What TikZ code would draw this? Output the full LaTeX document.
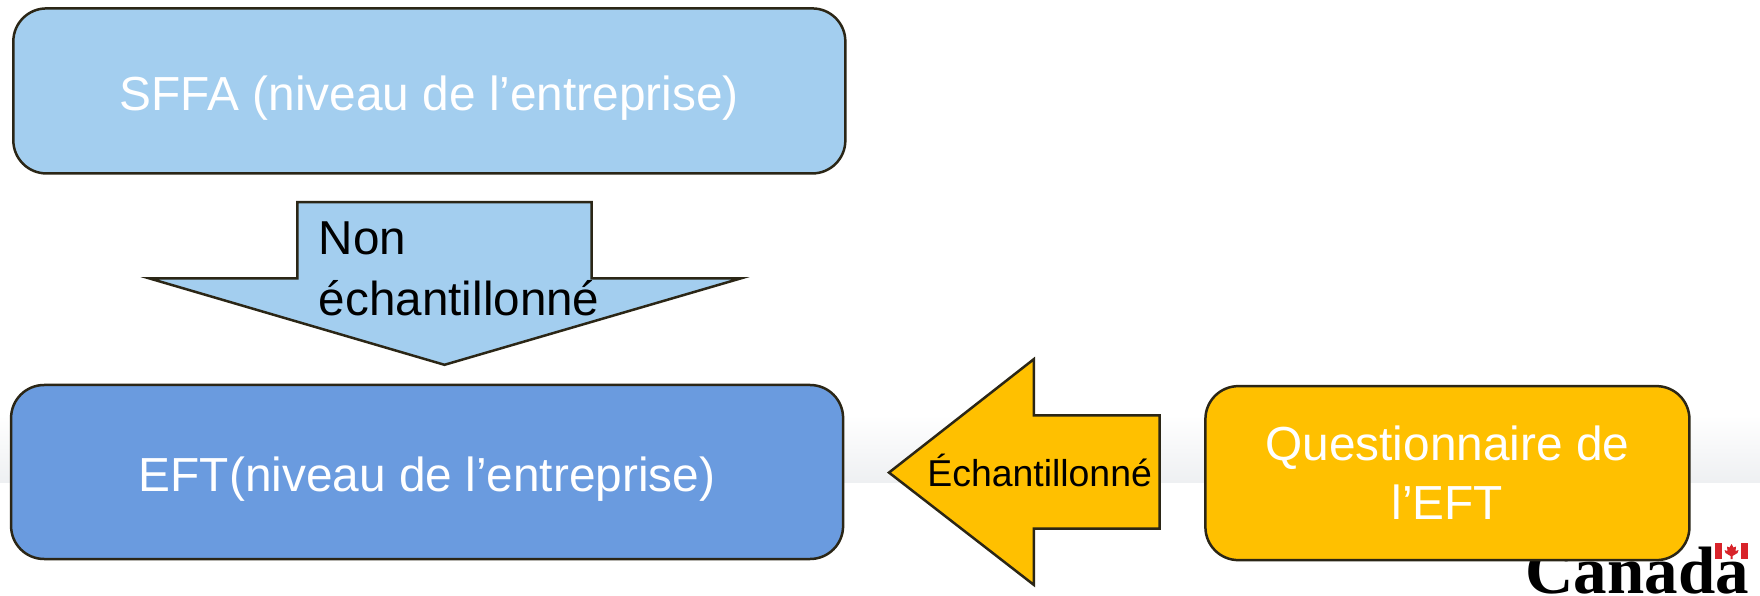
\documentclass[tikz,border=0pt]{standalone}
\usepackage{fontspec}
\setmainfont{Liberation Sans}
\newfontfamily\canadafont{Liberation Serif}
\definecolor{lightblue}{HTML}{A3CEEF}
\definecolor{midblue}{HTML}{6A9BDF}
\definecolor{amber}{HTML}{FFC000}
\definecolor{edge}{HTML}{2B2616}
\definecolor{bandgrey}{HTML}{EEF0F2}
\definecolor{flagred}{HTML}{D8232A}
\newcommand{\lowered}[2]{\smash{\raisebox{-#1}{#2}}}
\tikzset{
  panel/.style={draw=edge,line width=2.5pt,rounded corners=33pt,inner sep=0pt,align=center,text=white,font=\fontsize{47.8}{59}\selectfont},
  blockarrow/.style={draw=edge,line width=2.5pt,line join=miter},
  arrowlabel/.style={inner sep=0pt,text=black,align=left},
}
\begin{document}
\begin{tikzpicture}[x=1.12245pt,y=-1.12245pt]
\useasboundingbox (0pt,0pt) rectangle (1760pt,-595pt);
\fill[white] (0pt,0pt) rectangle (1760pt,-595pt);
% background band and wordmark, in reference pixels
\begin{scope}[x=1pt,y=-1pt]
\shade[top color=white,bottom color=bandgrey] (0,415) rectangle (1760,482);
\clip (0,0) rectangle (1760,595);
\node[anchor=base east,inner sep=0pt,text=black] (wordmark) at (1749,593) {\canadafont\bfseries\fontsize{67}{67}\selectfont Canada};
\fill[flagred] (1715,543) rectangle (1722,559);
\fill[flagred] (1741,543) rectangle (1748,559);
\fill[flagred] (1731.5,544) -- (1733.5,547.5) -- (1736,546.5) -- (1735.5,551) -- (1738.5,550) -- (1737.5,553) -- (1732.5,556) -- (1732.5,559) -- (1730.5,559) -- (1730.5,556) -- (1725.5,553) -- (1724.5,550) -- (1727.5,551) -- (1727,546.5) -- (1729.5,547.5) -- cycle;
\end{scope}
% boxes
\node[panel,fill=lightblue,minimum width=832pt,minimum height=165pt] (sffa) at (382.5,81) {\lowered{20pt}{SFFA (niveau de l’entreprise)}};
\node[panel,fill=midblue,minimum width=832pt,minimum height=174pt] (eft) at (380.5,420.5) {\lowered{19pt}{EFT(niveau de l’entreprise)}};
\node[panel,fill=amber,minimum width=484pt,minimum height=174pt] (quest) at (1289.5,421.5) {Questionnaire de\\l’EFT};
% block arrows
\draw[blockarrow,fill=lightblue] (265,180) -- (527,180) -- (527,248) -- (660,248) -- (396,325) -- (133,248) -- (265,248) -- cycle;
\node[arrowlabel,anchor=base west,font=\fontsize{47.6}{48}\selectfont] (non) at (284,227) {Non};
\node[arrowlabel,anchor=base west,font=\fontsize{47.6}{48}\selectfont] (ech) at (284,281) {échantillonné};
\draw[blockarrow,fill=amber] (1033,370) -- (1033,471) -- (921,471) -- (921,521) -- (792,421) -- (921,320) -- (921,370) -- cycle;
\node[arrowlabel,anchor=base west,font=\fontsize{37.4}{38}\selectfont] (sampled) at (826,433) {Échantillonné};
\end{tikzpicture}
\end{document}
